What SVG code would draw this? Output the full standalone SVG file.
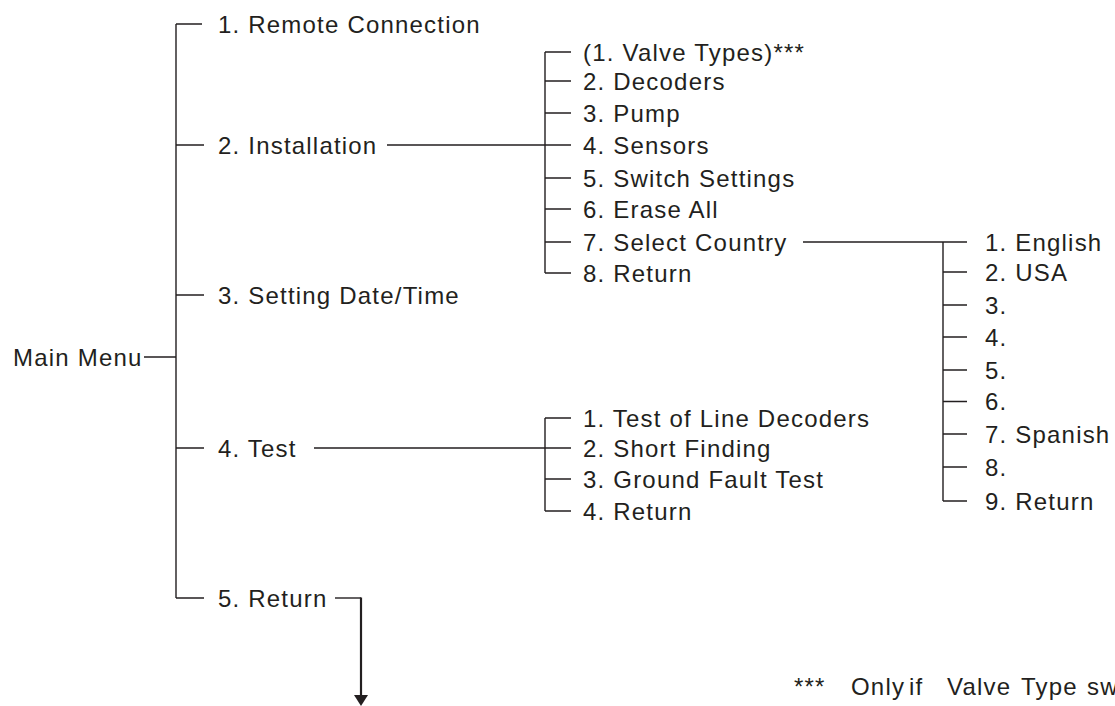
<svg xmlns="http://www.w3.org/2000/svg" width="1115" height="706" viewBox="0 0 1115 706">
<style>
text{font-family:"Liberation Sans",Arial,Helvetica,sans-serif;font-size:24px;fill:#231f20;letter-spacing:1.2px}
.c{fill:none;stroke:#231f20;stroke-width:1.4}
.a{fill:none;stroke:#231f20;stroke-width:2.2}
</style>
<rect width="1115" height="706" fill="#fff"/>
<g id="connectors">
<path class="c" d="M176,24V598M176,24H202M176,145H204M176,295H204M176,448H204M176,598H204M144,357H176"/>
<path class="c" d="M387,145H571M545,52V273M545,52H571M545,81H571M545,113H571M545,178H571M545,209H571M545,242H571M545,273H571"/>
<path class="c" d="M803,242H967M943,242V501M943,272H967M943,305H967M943,337H967M943,370H967M943,401.5H967M943,434H967M943,467H967M943,501H967"/>
<path class="c" d="M314,448H571M545,418V511M545,418H571M545,479H571M545,511H571"/>
<path class="c" d="M335,598H361"/>
<path class="a" d="M361,597.5V697"/>
<polygon points="354,695 368,695 361,706" fill="#231f20"/>
</g>
<g id="main"><text x="13" y="365.5">Main Menu</text></g>
<g id="m1"><text x="218" y="32.5">1. Remote Connection</text></g>
<g id="m2"><text x="218" y="153.5">2. Installation</text></g>
<g id="m3"><text x="218" y="303.5">3. Setting Date/Time</text></g>
<g id="m4"><text x="218" y="456.5">4. Test</text></g>
<g id="m5"><text x="218" y="606.5">5. Return</text></g>
<g id="i1"><text x="583" y="60.5">(1. Valve Types)***</text></g>
<g id="i2"><text x="583" y="89.5">2. Decoders</text></g>
<g id="i3"><text x="583" y="121.5">3. Pump</text></g>
<g id="i4"><text x="583" y="153.5">4. Sensors</text></g>
<g id="i5"><text x="583" y="186.5">5. Switch Settings</text></g>
<g id="i6"><text x="583" y="217.5">6. Erase All</text></g>
<g id="i7"><text x="583" y="250.5">7. Select Country</text></g>
<g id="i8"><text x="583" y="281.5">8. Return</text></g>
<g id="c1"><text x="985" y="251">1. English</text></g>
<g id="c2"><text x="985" y="280.5">2. USA</text></g>
<g id="c3"><text x="985" y="313.5">3.</text></g>
<g id="c4"><text x="985" y="345.5">4.</text></g>
<g id="c5"><text x="985" y="378.5">5.</text></g>
<g id="c6"><text x="985" y="410">6.</text></g>
<g id="c7"><text x="985" y="442.5">7. Spanish</text></g>
<g id="c8"><text x="985" y="475.5">8.</text></g>
<g id="c9"><text x="985" y="509.5">9. Return</text></g>
<g id="t1"><text x="583" y="426.5">1. Test of Line Decoders</text></g>
<g id="t2"><text x="583" y="456.5">2. Short Finding</text></g>
<g id="t3"><text x="583" y="487.5">3. Ground Fault Test</text></g>
<g id="t4"><text x="583" y="519.5">4. Return</text></g>
<g id="footnote">
<text x="794" y="695">***</text>
<text x="851" y="695">Only</text>
<text x="909" y="695">if</text>
<text x="947" y="695">Valve</text>
<text x="1021" y="695">Type</text>
<text x="1087" y="695">sw</text>
</g>
</svg>
